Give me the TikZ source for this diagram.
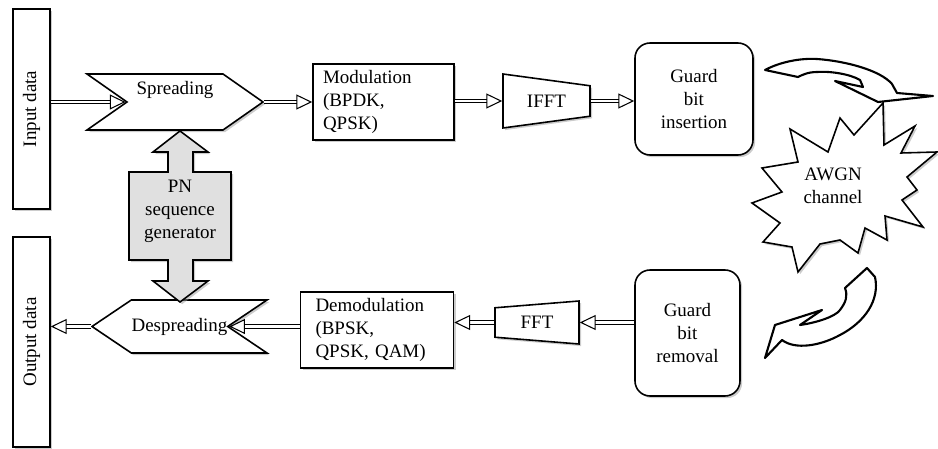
\documentclass[tikz,border=0pt]{standalone}
\usepackage{fontspec}
\setmainfont{Liberation Serif}
\usetikzlibrary{shapes.geometric, shapes.symbols, arrows.meta, positioning, calc, shadows}

\begin{document}
\begin{tikzpicture}[
    x=0.02cm, y=-0.02cm,
    % Define node styles
    shade/.style={drop shadow={shadow xshift=1.2pt, shadow yshift=-1.2pt, fill=black!40}},
    box/.style={rectangle, draw, line width=0.9pt, fill=white, inner sep=0pt, font=\fontsize{10.8}{13}\selectfont, shade},
    databox/.style={box, minimum width=0.74cm},
    modbox/.style={box, minimum height=1.52cm, align=left},
    guard/.style={box, rounded corners=0.3cm, align=center, drop shadow={opacity=0}},
    sig/.style={signal, draw, line width=0.9pt, fill=white, inner sep=0pt, font=\fontsize{10.8}{13}\selectfont, shade},
    fftbox/.style={trapezium, draw, line width=0.9pt, fill=white, inner sep=0pt, trapezium stretches=true, font=\fontsize{10.8}{13}\selectfont, shade},
    % Define edge style
    dbl/.style={double, double distance=1.6pt, line width=0.6pt, -{Triangle[open, length=9pt, width=8.5pt]}},
    blockarrow/.style={draw, line width=1.2pt, fill=white, line join=round},
]
\useasboundingbox (0,0) rectangle (938,449);

% Drawing the data boxes on the left
\node[databox, minimum height=4cm] (in) at (31.5,109) {\rotatebox{90}{Input data}};
\node[databox, minimum height=4.2cm] (out) at (31.5,342) {\rotatebox{90}{Output data}};

% Drawing the transmitter row
\node[sig, signal from=west, signal to=east, signal pointer angle=70, minimum width=3.52cm, minimum height=1.12cm,
      label={[font=\fontsize{10.8}{13}\selectfont, yshift=0.24cm]center:Spreading}] (spr) at (175,102) {};
\node[modbox, minimum width=2.82cm, text width=2.42cm] (mod) at (383.5,102) {Modulation\\(BPDK,\\QPSK)};
\node[fftbox, shape border rotate=270, trapezium angle=83, minimum width=1.08cm, minimum height=1.74cm] (ifft) at (546.5,101) {IFFT};
\node[guard, minimum width=2.36cm, minimum height=2.24cm] (gins) at (694,99) {Guard\\bit\\insertion};

% Drawing the receiver row
\node[guard, minimum width=2.1cm, minimum height=2.52cm] (grem) at (687.5,333) {Guard\\bit\\removal};
\node[fftbox, shape border rotate=90, trapezium angle=85, minimum width=0.86cm, minimum height=1.68cm] (fft) at (537,322.5) {FFT};
\node[modbox, minimum width=3.06cm, text width=2.46cm] (demod) at (377,330) {Demodulation\\(BPSK,\\QPSK, QAM)};
\node[sig, signal from=east, signal to=west, signal pointer angle=68, minimum width=3.5cm, minimum height=1.06cm,
      font=\fontsize{10.8}{13}\selectfont] (desp) at (179.5,326.5) {Despreading};

% Drawing the PN sequence generator with its double block arrow
\draw[line width=0.9pt, fill=black!12, shade] (180,131) -- (208,152) -- (193,152) -- (193,172) -- (231,172) -- (231,260)
    -- (193,260) -- (193,281) -- (208,281) -- (180,302) -- (153,281) -- (168,281) -- (168,260) -- (129,260)
    -- (129,172) -- (168,172) -- (168,152) -- (153,152) -- cycle;
\node[align=center, font=\fontsize{10.8}{13}\selectfont] (pn) at (180,211) {PN\\sequence\\generator};

% Drawing the AWGN channel burst
\draw[line width=0.9pt, fill=white, shade] (883,103) -- (884,145) -- (915,126) -- (901,153) -- (937,152) -- (907,177)
    -- (917,190) -- (902,200) -- (923,227) -- (885,216) -- (887,240) -- (865,228) -- (858,253) -- (840,240)
    -- (820,244) -- (798,272) -- (792,247) -- (763,242) -- (780,223) -- (752,203) -- (782,192) -- (762,168)
    -- (798,162) -- (790,129) -- (828,152) -- (840,118) -- (854,135) -- cycle;
\node[align=center, font=\fontsize{10.8}{13}\selectfont] (awgn) at (833,186) {AWGN\\channel};

% Drawing the curved arrows round the channel
\draw[blockarrow] (765,70) .. controls (780,62) and (800,58) .. (817,59) .. controls (845,61) and (880,70) .. (892,84)
    -- (897,93) -- (933,96) -- (878,102) -- (835,81) -- (863,87) -- (860,80) .. controls (850,74) and (830,71) .. (817,72)
    .. controls (808,72) and (802,75) .. (798,77) -- cycle;
\draw[blockarrow] (867,268) -- (875,277) .. controls (880,300) and (865,322) .. (840,335) .. controls (820,346) and (795,350) .. (782,340)
    -- (765,358) -- (775,325) -- (822,310) -- (800,325) .. controls (815,323) and (835,317) .. (840,310)
    .. controls (846,302) and (848,296) .. (845,288) -- cycle;

% Connecting the transmitter row
\draw[dbl] (in.east |- spr.west) -- (spr.west);
\draw[dbl] (spr.east) -- (spr.east -| mod.west);
\draw[dbl] (mod.east |- ifft.180) -- (ifft.180);
\draw[dbl] (ifft.0) -- (ifft.0 -| gins.west);

% Connecting the receiver row
\draw[dbl] (grem.west |- fft.0) -- (fft.0);
\draw[dbl] (fft.180) -- (fft.180 -| demod.east);
\draw[dbl] (demod.west |- desp.east) -- (desp.east);
\draw[dbl] (desp.west) -- (desp.west -| out.east);

\end{tikzpicture}
\end{document}
